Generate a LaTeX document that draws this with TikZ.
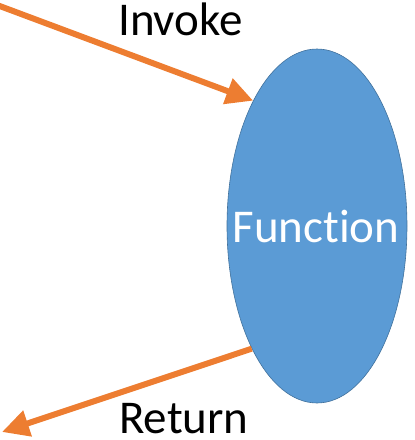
\documentclass[tikz,border=0pt]{standalone}
\usepackage{fontspec}
\setmainfont{Carlito}[Ligatures=NoCommon]
\usetikzlibrary{shapes.geometric,arrows.meta}
\definecolor{fillblue}{HTML}{5B9BD5}
\definecolor{lineblue}{HTML}{41719C}
\definecolor{arrorange}{HTML}{ED7D31}
\tikzset{
  funcnode/.style={ellipse, draw=lineblue, line width=0.6pt, fill=fillblue, minimum width=180pt, minimum height=354pt, inner sep=0pt},
  functext/.style={inner sep=0pt, text=white, font=\fontsize{47}{50}\selectfont},
  lbl/.style={anchor=base west, inner sep=0pt, font=\fontsize{47}{50}\selectfont},
  flow/.style={draw=arrorange, line width=6pt, -{Triangle[length=27pt,width=26pt]}}
}
\begin{document}
\begin{tikzpicture}[x=1pt,y=-1pt]
\useasboundingbox (0,0) rectangle (415,440);
\node[funcnode] (f) at (317,226) {};
\node[functext, anchor=base] (ft) at (316,242) {Function};
\coordinate (inv) at (-3,5);
\coordinate (ret) at (2,432);
\draw[flow] (inv) -- (f.117);
\draw[flow] (f.242) -- (ret);
\node[lbl] (invoke) at (118,35) {Invoke};
\node[lbl] (return) at (119,433) {Return};
\end{tikzpicture}
\end{document}
